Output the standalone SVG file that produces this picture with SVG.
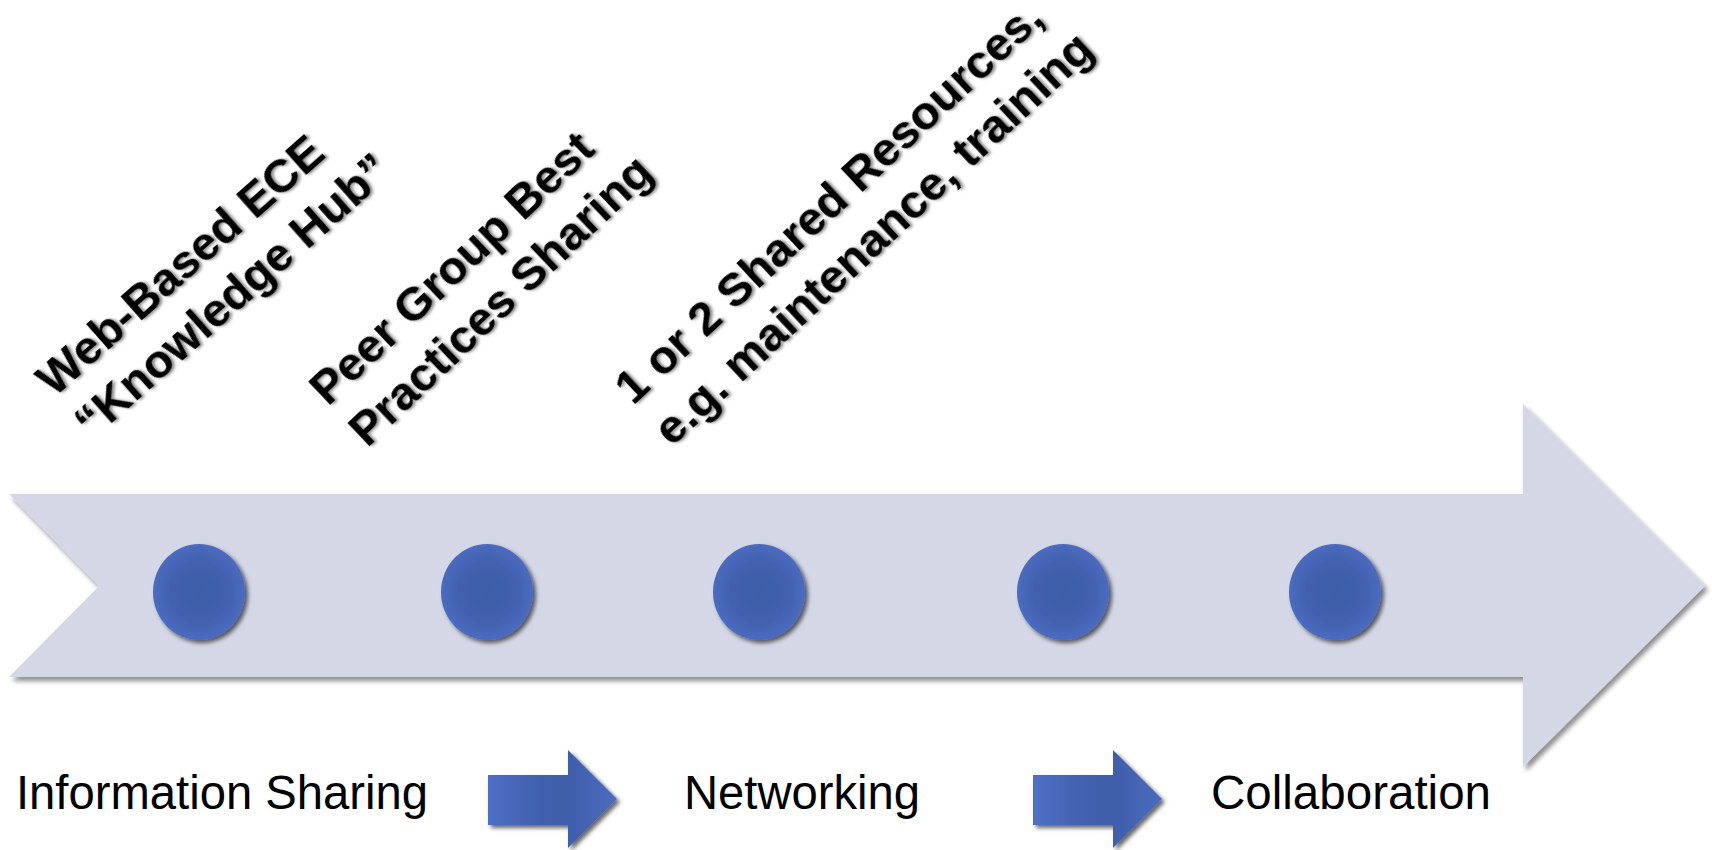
<svg xmlns="http://www.w3.org/2000/svg" width="1712" height="850" viewBox="0 0 1712 850">
  <defs>
    <filter id="shadowBig" x="-5%" y="-10%" width="110%" height="125%">
      <feDropShadow dx="3" dy="4" stdDeviation="2.5" flood-color="#000" flood-opacity="0.45"/>
    </filter>
    <filter id="shadowDot" x="-30%" y="-30%" width="160%" height="160%">
      <feDropShadow dx="3" dy="3" stdDeviation="2" flood-color="#000" flood-opacity="0.6"/>
    </filter>
    <filter id="shadowText" x="-5%" y="-10%" width="110%" height="120%">
      <feDropShadow dx="2" dy="2" stdDeviation="1.5" flood-color="#000" flood-opacity="0.45"/>
    </filter>
    <radialGradient id="dotGrad" cx="50%" cy="50%" r="50%">
      <stop offset="0" stop-color="#3F5DA9"/>
      <stop offset="0.6" stop-color="#4260AD"/>
      <stop offset="1" stop-color="#4A6BC0"/>
    </radialGradient>
    <linearGradient id="arrowGrad" x1="0" y1="0" x2="1" y2="0">
      <stop offset="0" stop-color="#4F70C5"/>
      <stop offset="0.35" stop-color="#4262B0"/>
      <stop offset="0.6" stop-color="#3F5EA9"/>
      <stop offset="1" stop-color="#4A6BC0"/>
    </linearGradient>
    <style>
      .dot { fill: url(#dotGrad); filter: url(#shadowDot); }
      .stage { font-family: "Liberation Sans", Arial, sans-serif; font-size: 48px; fill: #000; }
      .note { font-family: "Liberation Sans", Arial, sans-serif; font-weight: bold; font-size: 47px; fill: #000; filter: url(#shadowText); }
      .step { fill: url(#arrowGrad); filter: url(#shadowDot); }
    </style>
  </defs>

  <rect width="1712" height="850" fill="#ffffff"/>

  <g id="timeline-arrow">
    <path d="M9,494 L1523,494 L1523,404 L1705,586 L1523,767 L1523,677 L9,677 L99,586 Z" fill="#D3D7E6" filter="url(#shadowBig)"/>
  </g>

  <g id="milestones">
    <ellipse id="dot1" class="dot" cx="199" cy="592" rx="46" ry="48"/>
    <ellipse id="dot2" class="dot" cx="487" cy="592" rx="46" ry="48"/>
    <ellipse id="dot3" class="dot" cx="759" cy="592" rx="46" ry="48"/>
    <ellipse id="dot4" class="dot" cx="1063" cy="592" rx="46" ry="48"/>
    <ellipse id="dot5" class="dot" cx="1335" cy="592" rx="46" ry="48"/>
  </g>

  <g id="note-knowledge-hub">
    <text class="note" transform="translate(54,398) rotate(-41.5)"><tspan x="0" y="0">Web-Based ECE</tspan><tspan x="0" y="57">“Knowledge Hub”</tspan></text>
  </g>
  <g id="note-peer-group">
    <text class="note" transform="translate(328,407) rotate(-43.5)"><tspan x="0" y="0">Peer Group Best</tspan><tspan x="0" y="57">Practices Sharing</tspan></text>
  </g>
  <g id="note-shared-resources">
    <text class="note" transform="translate(633,406) rotate(-43)"><tspan x="0" y="0">1 or 2 Shared Resources,</tspan><tspan x="0" y="57">e.g. maintenance, training</tspan></text>
  </g>

  <g id="stage-information-sharing">
    <text class="stage" x="16" y="809" textLength="412" lengthAdjust="spacingAndGlyphs">Information Sharing</text>
  </g>
  <g id="stage-networking">
    <text class="stage" x="684" y="809" textLength="236" lengthAdjust="spacingAndGlyphs">Networking</text>
  </g>
  <g id="stage-collaboration">
    <text class="stage" x="1211" y="809" textLength="280" lengthAdjust="spacingAndGlyphs">Collaboration</text>
  </g>

  <g id="connectors">
    <path class="step" d="M488,775 L568,775 L568,750 L617,799 L568,848 L568,825 L488,825 Z"/>
    <path class="step" d="M1033,775 L1113,775 L1113,750 L1162,799 L1113,848 L1113,825 L1033,825 Z"/>
  </g>
</svg>
